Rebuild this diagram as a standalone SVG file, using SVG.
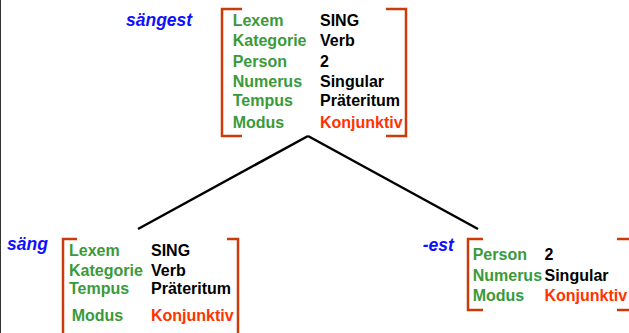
<svg xmlns="http://www.w3.org/2000/svg" width="629" height="333" viewBox="0 0 629 333">
<style>
text{font-family:"Liberation Sans",Arial,sans-serif;font-weight:bold;font-size:16px}
.k{fill:#3a9a3a}
.v{fill:#000}
.r{fill:#ff3300}
.w{fill:#1010ff;font-style:italic;font-size:17.5px}
.b{fill:none;stroke:#cc3a0a;stroke-width:2.5}
.e{fill:none;stroke:#000;stroke-width:2.5}
</style>
<rect x="0" y="0" width="629" height="333" fill="#fff"/>
<line x1="0.5" y1="0" x2="0.5" y2="333" stroke="#333" stroke-width="1"/>
<g id="connectors">
<line class="e" x1="308" y1="136" x2="138" y2="229"/>
<line class="e" x1="308" y1="136" x2="478" y2="229"/>
</g>
<g id="saengest">
<text class="w" x="126" y="26">sängest</text>
<path class="b" d="M242 9H222V136H242M386 9H406V136H386"/>
<text class="k" x="232.7" y="26">Lexem</text><text class="v" x="320" y="26">SING</text>
<text class="k" x="232.7" y="46">Kategorie</text><text class="v" x="320" y="46">Verb</text>
<text class="k" x="232.7" y="66.7">Person</text><text class="v" x="320" y="66.7">2</text>
<text class="k" x="232.7" y="86.7">Numerus</text><text class="v" x="320" y="86.7">Singular</text>
<text class="k" x="232.7" y="106">Tempus</text><text class="v" x="320" y="106">Präteritum</text>
<text class="k" x="232.7" y="127.7">Modus</text><text class="r" x="320" y="127.7">Konjunktiv</text>
</g>
<g id="saeng">
<text class="w" x="7" y="249.5">säng</text>
<path class="b" d="M77 239H63V340M227 239H238V340"/>
<text class="k" x="69" y="256">Lexem</text><text class="v" x="151" y="256">SING</text>
<text class="k" x="69" y="275.7">Kategorie</text><text class="v" x="151" y="275.7">Verb</text>
<text class="k" x="69" y="294">Tempus</text><text class="v" x="151" y="294">Präteritum</text>
<text class="k" x="71.7" y="320.7">Modus</text><text class="r" x="151" y="320.7">Konjunktiv</text>
</g>
<g id="est">
<text class="w" x="422.7" y="250.5">-est</text>
<path class="b" d="M483 239H468V310H483M617 239H640M617 310H640"/>
<text class="k" x="472.7" y="260">Person</text><text class="v" x="544.5" y="260">2</text>
<text class="k" x="472.7" y="280.7">Numerus</text><text class="v" x="544.5" y="280.7">Singular</text>
<text class="k" x="472.7" y="301">Modus</text><text class="r" x="544.5" y="301">Konjunktiv</text>
</g>
</svg>
